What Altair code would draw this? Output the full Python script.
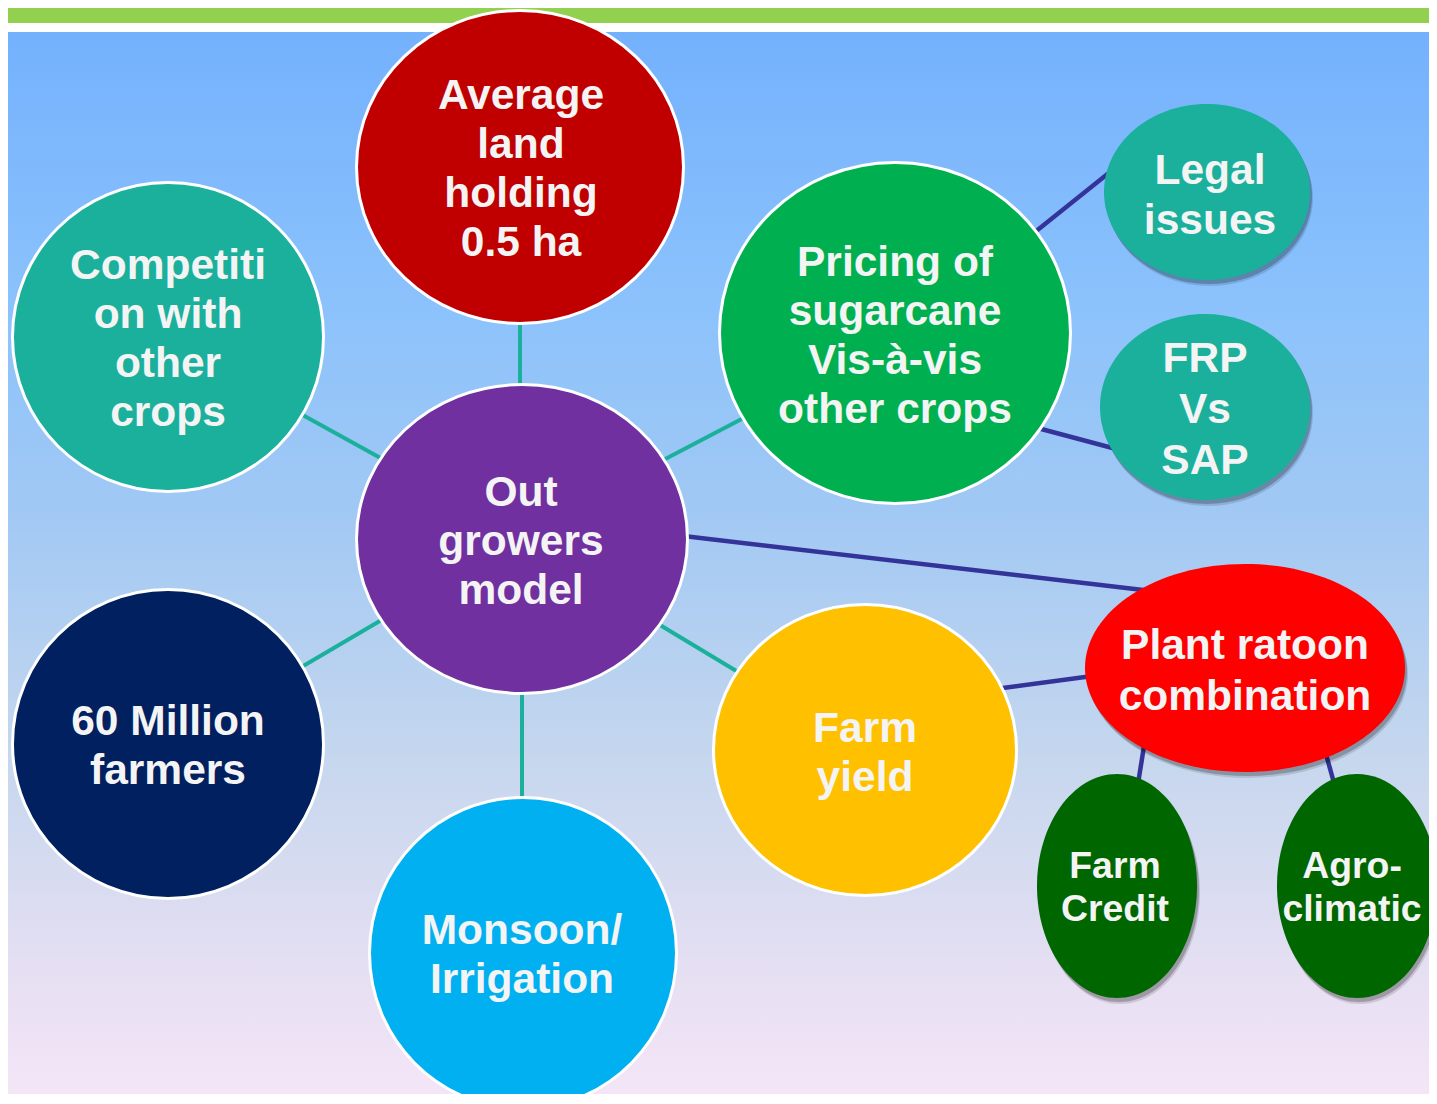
import altair as alt
import pandas as pd

# ---- canvas (page pixels) ----
W, H = 1421, 1086
OX, OY = 8, 8

# ---- node data ----
node_ids = ["avg", "comp", "out", "price", "legal", "frp", "plant", "yield", "sixty", "monsoon", "credit", "agro"]
node_labels = [
    "Average\nland\nholding\n0.5 ha",
    "Competiti\non with\nother\ncrops",
    "Out\ngrowers\nmodel",
    "Pricing of\nsugarcane\nVis-à-vis\nother crops",
    "Legal\nissues",
    "FRP\nVs\nSAP",
    "Plant ratoon\ncombination",
    "Farm\nyield",
    "60 Million\nfarmers",
    "Monsoon/\nIrrigation",
    "Farm\nCredit",
    "Agro-\nclimatic",
]
node_cx = [520, 168, 522, 895, 1207, 1205, 1245, 865, 168, 523, 1117, 1357]
node_cy = [167, 337, 539, 333, 192, 407, 668, 750, 744, 953, 886, 886]
node_rx = [165, 157, 167, 177, 103, 105, 160, 153, 157, 155, 80, 80]
node_ry = [158, 156, 156, 172, 88, 93, 104, 147, 156, 157, 112, 112]
node_fill = ["#c00000", "#1ab09c", "#7030a0", "#00b050", "#1ab09c", "#1ab09c",
             "#ff0000", "#ffc000", "#002060", "#00b0f0", "#006600", "#006600"]
node_outlined = [1, 1, 1, 1, 0, 0, 0, 1, 1, 1, 0, 0]
# centre of the first text line of each label
label_x = [521, 168, 521, 895, 1210, 1205, 1245, 865, 168, 522, 1115, 1352]
label_y = [96, 266, 493, 263, 171, 359, 646, 729, 722, 931, 867, 867]
label_size = [42.5, 42.5, 42.5, 42.5, 42.5, 42.5, 42.5, 42.5, 42.5, 42.5, 37.4, 37.4]
label_lh = [49, 49, 49, 49, 50, 51, 51, 49, 49, 49, 43, 43]

# ---- edge data ----
edge_x1 = [520, 290, 650, 390, 522, 650, 675, 1025, 1030, 995, 1145, 1322]
edge_y1 = [300, 408, 467, 615, 680, 619, 535, 240, 426, 689, 740, 740]
edge_x2 = [520, 395, 755, 293, 522, 748, 1160, 1125, 1120, 1100, 1137, 1336]
edge_y2 = [400, 466, 412, 672, 810, 678, 592, 160, 450, 675, 790, 790]
edge_kind = ["teal"] * 6 + ["blue"] * 6

# ---- background bands ----
band_y1 = [0, 23, 32]
band_y2 = [23, 32, 1104]


def ellipse_path(rx, ry):
    m = max(rx, ry)
    a, b = rx / m, ry / m
    k = 0.5523
    return (f"M {a:.4f} 0 C {a:.4f} {b*k:.4f} {a*k:.4f} {b:.4f} 0 {b:.4f} "
            f"C {-a*k:.4f} {b:.4f} {-a:.4f} {b*k:.4f} {-a:.4f} 0 "
            f"C {-a:.4f} {-b*k:.4f} {-a*k:.4f} {-b:.4f} 0 {-b:.4f} "
            f"C {a*k:.4f} {-b:.4f} {a:.4f} {-b*k:.4f} {a:.4f} 0 Z")


rows = []
for i, nid in enumerate(node_ids):
    sw = 3 if node_outlined[i] else 0
    rx = node_rx[i] - sw / 2
    ry = node_ry[i] - sw / 2
    rows.append(dict(
        id=nid, label=node_labels[i], cx=node_cx[i], cy=node_cy[i],
        path=ellipse_path(rx, ry), size=(2 * max(rx, ry)) ** 2,
        fill=node_fill[i], stroke="#ffffff" if sw else node_fill[i], sw=sw,
        shadow=1 - node_outlined[i], lx=label_x[i], ly=label_y[i], fs=label_size[i],
        lh=label_lh[i],
    ))
nodes = pd.DataFrame(rows)

edges = pd.DataFrame(dict(x=edge_x1, y=edge_y1, x2=edge_x2, y2=edge_y2, kind=edge_kind))
edges["color"] = edges["kind"].map({"teal": "#1ab09c", "blue": "#333399"})
edges["w"] = edges["kind"].map({"teal": 4, "blue": 4.5})

bands = pd.DataFrame(dict(x=[0, 0, 0], x2=[1437, 1437, 1437], y=band_y1, y2=band_y2,
                          part=["green", "white", "grad"]))

xs = alt.Scale(domain=[OX, OX + W], nice=False, zero=False)
ys = alt.Scale(domain=[OY, OY + H], nice=False, zero=False, reverse=True)


def X(f):
    return alt.X(f, type="quantitative", scale=xs, axis=None)


def Y(f):
    return alt.Y(f, type="quantitative", scale=ys, axis=None)


green = alt.Chart(bands).transform_filter("datum.part == 'green'").mark_rect(
    color="#92d050", clip=True).encode(x=X("x"), x2="x2", y=Y("y"), y2="y2")
white = alt.Chart(bands).transform_filter("datum.part == 'white'").mark_rect(
    color="#ffffff", clip=True).encode(x=X("x"), x2="x2", y=Y("y"), y2="y2")
grad = alt.Chart(bands).transform_filter("datum.part == 'grad'").mark_rect(
    clip=True,
    fill=alt.Gradient(
        gradient="linear", x1=0, x2=0, y1=0, y2=1,
        stops=[
            alt.GradientStop(color="#74b1fd", offset=0),
            alt.GradientStop(color="#8bc2fc", offset=0.25),
            alt.GradientStop(color="#a0c8f4", offset=0.44),
            alt.GradientStop(color="#c6d7ee", offset=0.68),
            alt.GradientStop(color="#e9e0f3", offset=0.9),
            alt.GradientStop(color="#f4e6f7", offset=1),
        ],
    ),
).encode(x=X("x"), x2="x2", y=Y("y"), y2="y2")

edge_layer = alt.Chart(edges).mark_rule(clip=True).encode(
    x=X("x"), y=Y("y"), x2="x2", y2="y2",
    color=alt.Color("color:N", scale=None),
    strokeWidth=alt.StrokeWidth("w:Q", scale=None),
)

shadow_base = alt.Chart(nodes).transform_filter("datum.shadow == 1")
shadow1 = shadow_base.mark_point(filled=True, color="#000000", opacity=0.12,
                                 xOffset=3, yOffset=6, clip=True).encode(
    x=X("cx"), y=Y("cy"),
    shape=alt.Shape("path:N", scale=None),
    size=alt.Size("size:Q", scale=None),
)
shadow2 = shadow_base.mark_point(filled=True, color="#000000", opacity=0.22,
                                 xOffset=2, yOffset=4, clip=True).encode(
    x=X("cx"), y=Y("cy"),
    shape=alt.Shape("path:N", scale=None),
    size=alt.Size("size:Q", scale=None),
)

node_layer = alt.Chart(nodes).mark_point(filled=True, opacity=1, clip=True).encode(
    x=X("cx"), y=Y("cy"),
    shape=alt.Shape("path:N", scale=None),
    size=alt.Size("size:Q", scale=None),
    fill=alt.Fill("fill:N", scale=None),
    stroke=alt.Stroke("stroke:N", scale=None),
    strokeWidth=alt.StrokeWidth("sw:Q", scale=None),
)

text_layers = []
for lh in sorted(set(label_lh)):
    text_layers.append(
        alt.Chart(nodes).transform_filter(f"datum.lh == {lh}").mark_text(
            font="Liberation Sans", fontWeight="bold", color="#f4f4f4",
            lineBreak="\n", lineHeight=lh, align="center", baseline="middle",
        ).encode(x=X("lx"), y=Y("ly"), text="label:N",
                 size=alt.Size("fs:Q", scale=None))
    )

chart = alt.layer(
    green, white, grad, edge_layer, shadow1, shadow2, node_layer, *text_layers
).properties(
    width=W, height=H, padding=0, background="#ffffff",
).configure_view(stroke=None)

chart.save("out.html", embed_options={"renderer": "svg", "actions": False})
